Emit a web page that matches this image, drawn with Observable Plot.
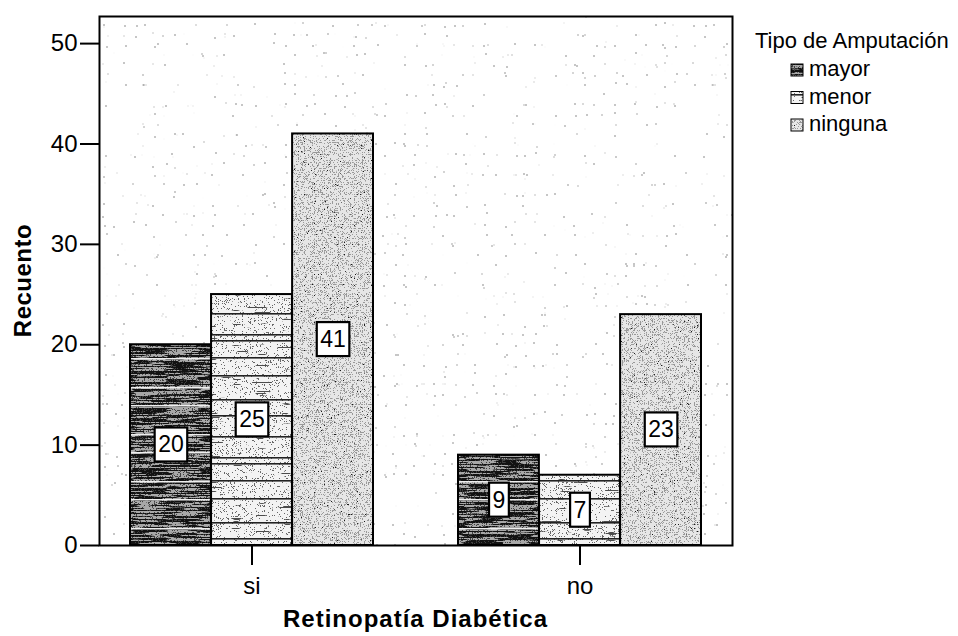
<!DOCTYPE html>
<html><head><meta charset="utf-8">
<script src="https://cdn.jsdelivr.net/npm/d3@7"></script>
<script src="https://cdn.jsdelivr.net/npm/@observablehq/plot@0.6"></script>
<style>
body{margin:0;background:#fff;}
#chart{position:relative;width:958px;height:636px;}
</style></head><body><div id="chart"></div>
<script>
// ---- data ----
const groups = ["si", "no"];
const types = ["mayor", "menor", "ninguna"];
const countsSi = [20, 25, 41];
const countsNo = [9, 7, 23];
const yTicks = [0, 10, 20, 30, 40, 50];
const xTitle = "Retinopatía Diabética";
const yTitle = "Recuento";
const legendTitle = "Tipo de Amputación";

const data = [];
groups.forEach((g, gi) => types.forEach((t, ti) =>
  data.push({grupo: g, tipo: t, n: (gi === 0 ? countsSi : countsNo)[ti]})));

// ---- layout ----
const W = 958, H = 636, mL = 99, mR = 226, mT = 16, mB = 91;
const padIn = 0.259, padOut = 0.094;
const plotW = W - mL - mR;
const step = plotW / (groups.length - padIn + 2 * padOut);
const bw = step * (1 - padIn);
const sub = bw / 3;
const dxOf = {mayor: -sub, menor: 0, ninguna: sub};
const insetOf = {mayor: [0, 2 * sub], menor: [sub, sub], ninguna: [2 * sub, 0]};
const fillOf = {mayor: "url(#p-mayor)", menor: "url(#p-menor)", ninguna: "url(#p-ninguna)"};
const FONT = "'Liberation Sans', Arial, Helvetica, sans-serif";

const chart = Plot.plot({
  width: W, height: H,
  marginLeft: mL, marginRight: mR, marginTop: mT, marginBottom: mB,
  style: `font-family:${FONT};font-size:24px;background:#fff;color:#000;`,
  x: {type: "band", domain: groups, paddingInner: padIn, paddingOuter: padOut},
  y: {domain: [0, 52.7]},
  marks: [
    Plot.frame({fill: "url(#p-bg)"}),
    ...types.map(t => Plot.barY(data.filter(d => d.tipo === t), {
      x: "grupo", y: "n", fill: fillOf[t], stroke: "#000", strokeWidth: 2,
      insetLeft: insetOf[t][0], insetRight: insetOf[t][1]
    })),
    Plot.frame({stroke: "#000", strokeWidth: 2}),
    Plot.axisY({ticks: yTicks, tickSize: 19, tickPadding: 3, strokeWidth: 2, label: null, fontSize: 24}),
    Plot.axisX({tickSize: 20, tickPadding: 11, strokeWidth: 2, label: null, fontSize: 24}),
    ...types.map(t => Plot.text(data.filter(d => d.tipo === t), {
      x: "grupo", y: d => d.n / 2, text: d => String(d.n), dx: dxOf[t],
      fontSize: 23, fill: "#000"
    }))
  ]
});
document.getElementById("chart").appendChild(chart);

// ---- textures ----
const svg = d3.select(chart);
const defs = svg.insert("defs", ":first-child");
function noiseFilter(id, freq, seed, rgb, slope, offset) {
  const f = defs.append("filter").attr("id", id)
    .attr("x", 0).attr("y", 0).attr("width", 1).attr("height", 1)
    .attr("color-interpolation-filters", "sRGB");
  f.append("feTurbulence").attr("type", "fractalNoise").attr("baseFrequency", freq)
    .attr("numOctaves", 1).attr("seed", seed).attr("result", "n");
  const [r, g, b] = rgb;
  f.append("feColorMatrix").attr("in", "n").attr("type", "matrix")
    .attr("values", `0 0 0 0 ${r} 0 0 0 0 ${g} 0 0 0 0 ${b} ${slope} 0 0 0 ${offset}`);
}
function pattern(id, base, layers, lines) {
  const p = defs.append("pattern").attr("id", id).attr("patternUnits", "userSpaceOnUse")
    .attr("x", 0).attr("y", 0).attr("width", W).attr("height", H);
  p.append("rect").attr("width", W).attr("height", H).attr("fill", base);
  layers.forEach((L, i) => {
    const fid = `${id}-f${i}`;
    noiseFilter(fid, L.freq, L.seed, L.rgb, L.slope, L.offset);
    p.append("rect").attr("width", W).attr("height", H).attr("filter", `url(#${fid})`);
  });
  if (lines) {
    for (let y0 = 0; y0 < H; y0 += lines.period) {
      lines.offsets.forEach(o => p.append("rect").attr("x", 0).attr("y", y0 + o)
        .attr("width", W).attr("height", lines.h).attr("fill", lines.color));
    }
  }
}
pattern("p-bg", "#fff", [
  {freq: 0.9, seed: 7, rgb: [0.1, 0.1, 0.1], slope: -40, offset: 10.2}
]);
pattern("p-ninguna", "#e6e6e6", [
  {freq: 1.5, seed: 2, rgb: [0.6, 0.6, 0.6], slope: -40, offset: 17.6},
  {freq: 1.3, seed: 5, rgb: [0.1, 0.1, 0.1], slope: -40, offset: 11.4}
]);
pattern("p-mayor", "#a8a8a8", [
  {freq: "0.03 0.7", seed: 3, rgb: [0.07, 0.07, 0.07], slope: -40, offset: 20.8},
  {freq: 1.5, seed: 8, rgb: [0.25, 0.25, 0.25], slope: -40, offset: 17}
], {period: 47, offsets: [11, 29], h: 1.5, color: "#eeeeee"});
pattern("p-menor", "#f3f3f3", [
  {freq: 1.5, seed: 4, rgb: [0.4, 0.4, 0.4], slope: -40, offset: 14.4},
  {freq: "0.04 0.8", seed: 9, rgb: [0.3, 0.3, 0.3], slope: -40, offset: 12.4}
], {period: 123, offsets: [6, 30, 46, 67, 88, 94, 111], h: 1.6, color: "#222"});

// ---- value label boxes (drawn under the text marks, in root coordinates) ----
const svgBox = chart.getBoundingClientRect();
const textGroups = svg.selectAll("g[aria-label='text']").nodes();
const boxLayer = svg.insert("g", () => textGroups[0]).attr("class", "label-boxes");
textGroups.forEach(g => d3.select(g).selectAll("text").each(function () {
  const r = this.getBoundingClientRect();
  const x = r.left - svgBox.left, y = r.top - svgBox.top;
  const cyL = y + r.height / 2;
  boxLayer.append("rect")
    .attr("x", x - 3.5).attr("y", cyL - 17)
    .attr("width", r.width + 7).attr("height", 34)
    .attr("fill", "#fff").attr("stroke", "#000").attr("stroke-width", 2.2);
}));

// ---- axis titles ----
const cx = mL + plotW / 2, cy = mT + (H - mT - mB) / 2;
svg.append("text").text(xTitle).attr("x", cx).attr("y", 627)
  .attr("text-anchor", "middle").attr("font-weight", "bold").attr("font-size", 24)
  .attr("letter-spacing", 1).attr("fill", "#000");
svg.append("text").text(yTitle).attr("transform", `translate(31,${cy}) rotate(-90)`)
  .attr("text-anchor", "middle").attr("font-weight", "bold").attr("font-size", 24)
  .attr("letter-spacing", 0.5).attr("fill", "#000");

// ---- legend ----
const lg = svg.append("g").attr("font-size", 22).attr("fill", "#000").attr("text-anchor", "start");
lg.append("text").text(legendTitle).attr("x", 755).attr("y", 48).attr("text-anchor", "start");
types.forEach((t, i) => {
  const base = 76 + i * 27.5;
  lg.append("rect").attr("x", 791).attr("y", base - 12).attr("width", 12).attr("height", 12)
    .attr("fill", fillOf[t]).attr("stroke", "#000").attr("stroke-width", 1);
  lg.append("text").text(t).attr("x", 809).attr("y", base).attr("text-anchor", "start");
});
</script></body></html>
